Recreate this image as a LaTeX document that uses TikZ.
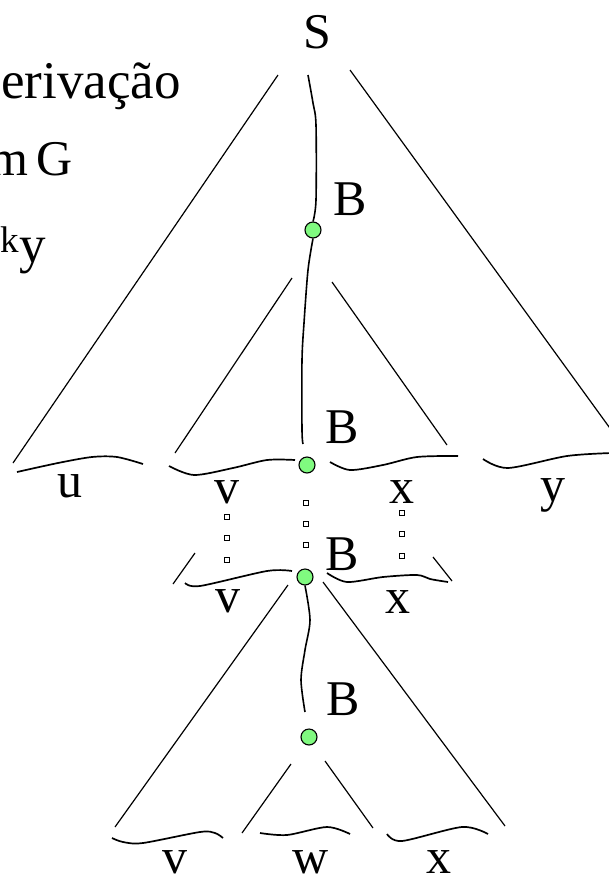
\documentclass[tikz,border=0pt]{standalone}
\usepackage{fontspec}
\setmainfont{Liberation Serif}
\definecolor{dotgreen}{RGB}{128,250,128}
\begin{document}
\begin{tikzpicture}[x=1pt,y=-1pt,
  lbl/.style={font=\fontsize{50}{60}\selectfont, inner sep=0pt, anchor=base},
  side/.style={font=\fontsize{53}{60}\selectfont, inner sep=0pt, anchor=base east},
  gdot/.style={circle, draw=black, line width=1.1pt, fill=dotgreen, minimum size=16pt, inner sep=0pt},
  edge/.style={line width=1.2pt},
  brace/.style={line width=1.7pt},
  trunk/.style={line width=1.6pt},
  sq/.style={rectangle, draw=black, fill=white, line width=1.2pt, minimum size=5.5pt, inner sep=0pt}
]
\useasboundingbox (0,0) rectangle (609,876);
\begin{scope}
\clip (0,0) rectangle (609,876);
% side text
\node[side] (t1) at (181,98) {erivação};
\node[lbl, anchor=base east] (t2) at (73,175) {m\ \kern-4pt G};
\node[side, anchor=base west] (t3) at (0,262) {\textsuperscript{k}y};

% labels
\node[lbl] (S) at (317,48) {S};
\node[lbl] (B1) at (350,215) {B};
\node[lbl] (B2) at (342,443) {B};
\node[lbl] (B3) at (342,570) {B};
\node[lbl] (B4) at (343,715) {B};

\node[lbl] (lu) at (70,497) {u};
\node[lbl] (lv1) at (227,503) {v};
\node[lbl] (lx1) at (402,503) {x};
\node[lbl] (ly) at (553,501) {y};
\node[lbl] (lv2) at (228,612) {v};
\node[lbl] (lx2) at (398,613) {x};
\node[lbl] (lv3) at (175,873) {v};
\node[lbl] (lw3) at (311,873) {w};
\node[lbl] (lx3) at (439,873) {x};

% triangle sides
\draw[edge] (278,75) -- (13,463);
\draw[edge] (350,70) -- (612,431);
\draw[edge] (292,278) -- (175,453);
\draw[edge] (332,282) -- (447,445);
\draw[edge] (195,553) -- (173,584);
\draw[edge] (433,557) -- (452,581);
\draw[edge] (288,585) -- (115,827);
\draw[edge] (323,582) -- (505,826);
\draw[edge] (291,764) -- (242,833);
\draw[edge] (325,761) -- (373,828);

% braces
\draw[brace] plot[smooth] coordinates {(17,472) (58,463) (92,457) (117,457) (143,464)};
\draw[brace] plot[smooth] coordinates {(169,466) (194,475) (233,468) (267,460) (295,460)};
\draw[brace] plot[smooth] coordinates {(330,462) (350,470) (383,465) (417,457) (458,456)};
\draw[brace] plot[smooth] coordinates {(483,459) (508,468) (567,456) (612,453)};
\draw[brace] plot[smooth] coordinates {(185,583) (200,586) (267,571) (292,571)};
\draw[brace] plot[smooth] coordinates {(327,573) (347,582) (383,577) (417,575) (430,579) (448,582)};
\draw[brace] plot[smooth] coordinates {(112,838) (123,842) (143,843) (200,832) (215,833) (223,838)};
\draw[brace] plot[smooth] coordinates {(260,833) (287,835) (327,827) (350,834)};
\draw[brace] plot[smooth] coordinates {(387,834) (402,841) (462,827) (488,834)};

% dots
\node[gdot] (d1) at (313,230) {};
\node[gdot] (d2) at (307,465) {};
\node[gdot] (d3) at (305,577) {};
\node[gdot] (d4) at (309,737) {};

% trunk
\draw[trunk] plot[smooth] coordinates {(308,75) (313,103) (316,125) (316,200) (d1.north)};
\draw[trunk] plot[smooth] coordinates {(d1.south) (308,270) (304,323) (302,360) (302,430) (303,444)};
\draw[trunk] plot[smooth] coordinates {(d3.south) (310,620) (305,650) (301,680) (305,712)};

% dotted squares
\foreach \yy in {503,524,545} \node[sq] at (306,\yy) {};
\foreach \yy in {517,538,560} \node[sq] at (227,\yy) {};
\foreach \yy in {513,534,556} \node[sq] at (402,\yy) {};
\end{scope}
\end{tikzpicture}
\end{document}
